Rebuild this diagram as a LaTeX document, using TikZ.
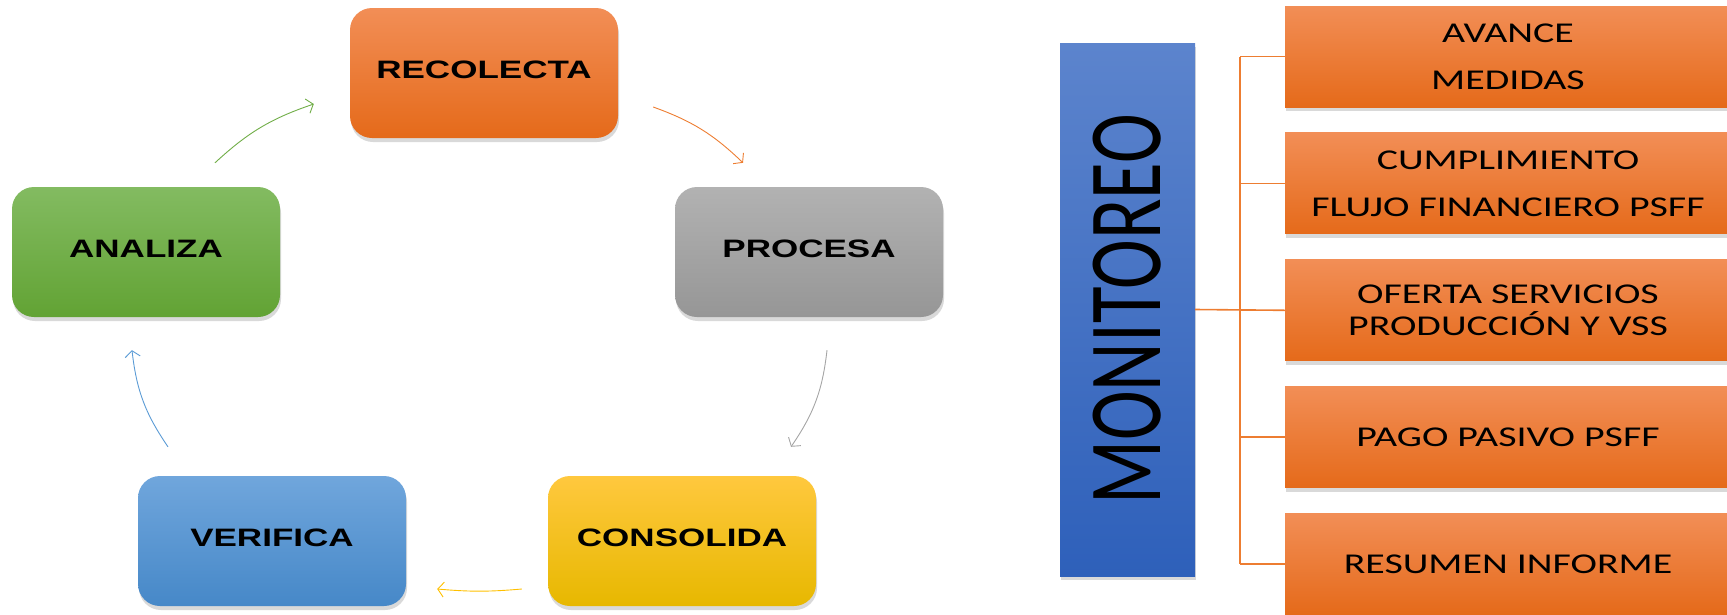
\documentclass[tikz,border=0pt]{standalone}
\usepackage{fontspec}
\newfontfamily\cyclefont[FakeStretch=1.39]{Liberation Sans Bold}
\newfontfamily\itemfont[FakeStretch=1.39]{Carlito}
\newfontfamily\monfont[FakeStretch=0.72]{Carlito}
\usetikzlibrary{positioning}
\usetikzlibrary {arrows.meta}
\usetikzlibrary{shadows}
\definecolor{recA}{RGB}{242,142,86}
\definecolor{recB}{RGB}{229,106,26}
\definecolor{proA}{RGB}{178,178,178}
\definecolor{proB}{RGB}{150,150,150}
\definecolor{conA}{RGB}{255,200,62}
\definecolor{conB}{RGB}{231,184,0}
\definecolor{verA}{RGB}{112,166,220}
\definecolor{verB}{RGB}{70,136,200}
\definecolor{anaA}{RGB}{131,187,97}
\definecolor{anaB}{RGB}{98,163,52}
\definecolor{monA}{RGB}{92,132,205}
\definecolor{monB}{RGB}{46,96,186}
\definecolor{lineorange}{RGB}{237,125,49}
\definecolor{linegray}{RGB}{165,165,165}
\definecolor{lineyellow}{RGB}{255,192,0}
\definecolor{lineblue}{RGB}{91,155,213}
\definecolor{linegreen}{RGB}{112,173,71}
\tikzset{cyclebox/.style={rectangle,rounded corners=22pt,draw=none,
inner sep=2pt,minimum height=130pt, minimum width=268pt,
text height=18pt,text depth=7pt,
font=\cyclefont\fontsize{25.2}{30}\selectfont,
drop shadow={shadow xshift=1pt,shadow yshift=-4pt,opacity=0.3}}}
\tikzset{itembox/.style={rectangle,draw=none,top color=recA,bottom color=recB,
inner sep=2pt,minimum height=101pt, minimum width=446pt,align=center,
font=\itemfont\fontsize{28.7}{47}\selectfont,
drop shadow={shadow xshift=1pt,shadow yshift=-4pt,opacity=0.3}}}
\tikzset{monbox/.style={rectangle,draw=none,top color=monA,bottom color=monB,
inner sep=0pt,minimum height=533pt, minimum width=135pt,
font=\monfont\fontsize{104}{110}\selectfont,
drop shadow={shadow xshift=1pt,shadow yshift=-4pt,opacity=0.3}}}
\tikzset{cyclearrow/.style={line width=0.9pt,-{Straight Barb[length=6pt,width=15pt]}}}
\tikzset{treeline/.style={draw=lineorange,line width=1.6pt}}

\begin{document}
\begin{tikzpicture}[x=1pt,y=-1pt]
        \useasboundingbox (0,0) rectangle (1727,614);

        % ciclo
        \node[cyclebox,top color=recA,bottom color=recB] (boxRec) at (484,73) {RECOLECTA};
        \node[cyclebox,top color=proA,bottom color=proB] (boxPro) at (809,252) {PROCESA};
        \node[cyclebox,top color=conA,bottom color=conB] (boxCon) at (682,541) {CONSOLIDA};
        \node[cyclebox,top color=verA,bottom color=verB] (boxVer) at (272,541) {VERIFICA};
        \node[cyclebox,top color=anaA,bottom color=anaB] (boxAna) at (146,252) {ANALIZA};

        \coordinate (boxRecr) at ([xshift=35pt,yshift=-34pt]boxRec.east);
        \coordinate (boxProt) at ([xshift=-66pt,yshift=24pt]boxPro.north);
        \draw [cyclearrow,draw=lineorange] (boxRecr) to[bend left=12] (boxProt);

        \coordinate (boxProb) at ([xshift=18pt,yshift=-33pt]boxPro.south);
        \coordinate (boxCont) at ([xshift=109pt,yshift=29pt]boxCon.north);
        \draw [cyclearrow,draw=linegray] (boxProb) to[bend left=14] (boxCont);

        \coordinate (boxConl) at ([xshift=-26pt,yshift=-48pt]boxCon.west);
        \coordinate (boxVerr) at ([xshift=31pt,yshift=-48pt]boxVer.east);
        \draw [cyclearrow,draw=lineyellow] (boxConl) to[bend left=5] (boxVerr);

        \coordinate (boxVert) at ([xshift=-104pt,yshift=29pt]boxVer.north);
        \coordinate (boxAnab) at ([xshift=-14pt,yshift=-33pt]boxAna.south);
        \draw [cyclearrow,draw=lineblue] (boxVert) to[bend left=14] (boxAnab);

        \coordinate (boxAnat) at ([xshift=69pt,yshift=24pt]boxAna.north);
        \coordinate (boxRecl) at ([xshift=-36pt,yshift=-31pt]boxRec.west);
        \draw [cyclearrow,draw=linegreen] (boxAnat) to[bend left=12] (boxRecl);

        % monitoreo
        \node[monbox] (boxMon) at (1127.5,309.5) {\rotatebox{90}{MONITOREO}};

        \node[itembox] (boxAva) at (1508,56.5) {AVANCE\\MEDIDAS};
        \node[itembox] (boxCum) [below=25.5pt of boxAva] {CUMPLIMIENTO\\FLUJO FINANCIERO PSFF};
        \node[itembox] (boxOfe) [below=25.5pt of boxCum] {OFERTA SERVICIOS\\[-15pt]PRODUCCIÓN Y VSS};
        \node[itembox] (boxPag) [below=25.5pt of boxOfe] {PAGO PASIVO PSFF};
        \node[itembox] (boxRes) [below=25.5pt of boxPag] {RESUMEN INFORME};

        \draw [treeline] (boxMon.east) -- (boxOfe.west);
        \draw [treeline] ([xshift=-45pt]boxAva.west) -- ([xshift=-45pt]boxRes.west);
        \foreach \b in {boxAva,boxCum,boxOfe,boxPag,boxRes}
            \draw [treeline] (\b.west) -- ++(-45pt,0);

    \end{tikzpicture}
\end{document}
